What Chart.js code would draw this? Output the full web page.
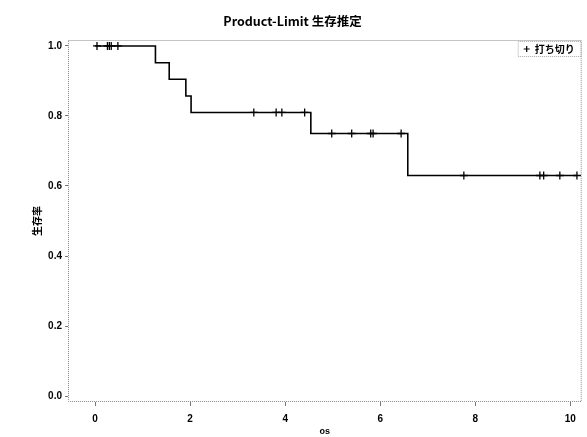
<!DOCTYPE html>
<html><head><meta charset="utf-8">
<script src="https://cdn.jsdelivr.net/npm/chart.js@4/dist/chart.umd.min.js"></script>
<style>html,body{margin:0;padding:0;background:#fff}#wrap{width:587px;height:437px}</style>
</head><body><div id="wrap"><canvas id="c" width="587" height="437"></canvas></div>
<script>
const titleText = 'Product-Limit 生存推定';
const xTitle = 'os';
const yTitle = '生存率';
const legendLabel = '打ち切り';
// Kaplan-Meier step points (time, survival)
const stepTimes = [0, 1.27, 1.56, 1.91, 2.02, 4.54, 6.58, 10.14];
const stepSurv  = [1.0, 0.952, 0.905, 0.857, 0.810, 0.750, 0.630, 0.630];
// censored observations
const censorTimes = [0.04, 0.26, 0.30, 0.34, 0.48, 3.34, 3.81, 3.93, 4.41, 4.98, 5.40, 5.80, 5.85, 6.44, 7.76, 9.36, 9.44, 9.78, 10.14];
const censorSurv  = [1.0, 1.0, 1.0, 1.0, 1.0, 0.810, 0.810, 0.810, 0.810, 0.750, 0.750, 0.750, 0.750, 0.750, 0.630, 0.630, 0.630, 0.630, 0.630];
const xTicks = [0, 2, 4, 6, 8, 10];
const yTicks = [0.0, 0.2, 0.4, 0.6, 0.8, 1.0];

const stepData = stepTimes.map((t, i) => ({x: t, y: stepSurv[i]}));
const censorData = censorTimes.map((t, i) => ({x: t, y: censorSurv[i]}));
const FONT = "'Liberation Sans', 'Noto Sans CJK JP', sans-serif";

const borderPlugin = {
  id: 'borderBox',
  afterDraw(chart) {
    const {ctx, chartArea: a} = chart;
    ctx.save();
    ctx.strokeStyle = '#888';
    ctx.lineWidth = 1;
    ctx.setLineDash([1, 1]);
    ctx.strokeRect(a.left + 0.5, a.top + 0.5, a.right - a.left - 1, a.bottom - a.top - 1);
    // legend box
    const bx = a.right - 64, by = a.top + 1, bw = 63, bh = 15;
    ctx.strokeStyle = '#aaa';
    ctx.strokeRect(bx + 0.5, by + 0.5, bw, bh);
    ctx.setLineDash([]);
    ctx.strokeStyle = '#000';
    ctx.lineWidth = 1.2;
    const cx = bx + 9, cy = by + 8;
    ctx.beginPath();
    ctx.moveTo(cx - 3, cy); ctx.lineTo(cx + 3, cy);
    ctx.moveTo(cx, cy - 3); ctx.lineTo(cx, cy + 3);
    ctx.stroke();
    ctx.fillStyle = '#000';
    ctx.font = "bold 10px 'Noto Sans CJK JP', sans-serif";
    ctx.textBaseline = 'middle';
    ctx.textAlign = 'left';
    ctx.fillText(legendLabel, bx + 17, cy);
    ctx.restore();
  }
};

new Chart(document.getElementById('c'), {
  type: 'scatter',
  data: {
    datasets: [
      {
        label: 'survival',
        data: stepData,
        showLine: true,
        stepped: 'before',
        borderColor: '#000',
        borderWidth: 1.6,
        pointRadius: 0,
        fill: false
      },
      {
        label: legendLabel,
        data: censorData,
        showLine: false,
        pointStyle: 'cross',
        pointRadius: 4,
        borderColor: '#000',
        borderWidth: 1.3,
        backgroundColor: '#000'
      }
    ]
  },
  options: {
    responsive: false,
    animation: false,
    layout: {padding: {left: 0, right: 2, top: 0, bottom: 0}},
    plugins: {
      legend: {display: false},
      tooltip: {enabled: false},
      title: {
        display: true,
        text: titleText,
        color: '#000',
        font: {family: "'Noto Sans CJK JP', sans-serif", size: 12.5, weight: 'bold', lineHeight: 1.2},
        padding: {top: 14, bottom: 11}
      }
    },
    scales: {
      x: {
        type: 'linear',
        min: -0.57, max: 10.24,
        afterBuildTicks(axis) { axis.ticks = xTicks.map(v => ({value: v})); },
        afterFit(axis) { axis.height = 35; },
        grid: {display: true, drawOnChartArea: false, drawTicks: true, tickLength: 4, color: '#777'},
        border: {display: false},
        ticks: {color: '#000', padding: 7, font: {family: FONT, size: 10, weight: 'bold'}, callback: v => String(v)},
        title: {display: true, text: xTitle, color: '#000', padding: {top: 0, bottom: 0}, font: {family: FONT, size: 9, weight: 'bold'}}
      },
      y: {
        type: 'linear',
        min: -0.017, max: 1.017,
        afterBuildTicks(axis) { axis.ticks = yTicks.map(v => ({value: v})); },
        afterFit(axis) { axis.width = 68; },
        grid: {display: true, drawOnChartArea: false, drawTicks: true, tickLength: 3, color: '#777'},
        border: {display: false},
        ticks: {color: '#000', padding: 3, font: {family: FONT, size: 10, weight: 'bold'}, callback: v => v.toFixed(1)},
        title: {display: true, text: yTitle, color: '#000', padding: {top: 31, bottom: 0}, font: {family: "'Noto Sans CJK JP', sans-serif", size: 10, weight: 'bold'}}
      }
    }
  },
  plugins: [borderPlugin]
});
</script>
</body></html>
